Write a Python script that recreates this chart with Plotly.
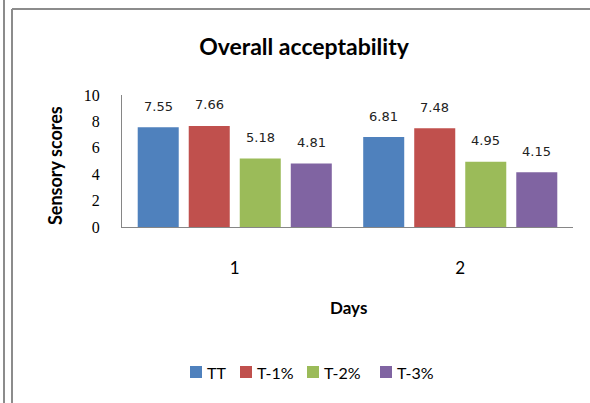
import plotly.graph_objects as go

# Overall acceptability sensory scores by storage day
days = ["1", "2"]
series_names = ["TT", "T-1%", "T-2%", "T-3%"]
tt_scores = [7.55, 6.81]
t1_scores = [7.66, 7.48]
t2_scores = [5.18, 4.95]
t3_scores = [4.81, 4.15]
y_ticks = [0, 2, 4, 6, 8, 10]

colors = ["#4F81BD", "#C0504D", "#9BBB59", "#8064A2"]
series_values = [tt_scores, t1_scores, t2_scores, t3_scores]

W, H = 590, 403
L, R, T, B = 122, 573, 95, 227  # plot area edges in pixels
BARGAP = 0.095
GROUPGAP = 0.196


def px(x):
    return (x - L) / (R - L)


def py(y):
    return (B - y) / (B - T)


fig = go.Figure()
for name, vals, col in zip(series_names, series_values, colors):
    fig.add_trace(go.Bar(
        x=days, y=vals, name=name, showlegend=False,
        marker=dict(color=col, line=dict(width=0)),
    ))

# value labels above each bar
annotations = []
slot = (1 - BARGAP) / len(series_names)
for i, vals in enumerate(series_values):
    off = -(1 - BARGAP) / 2 + slot * (i + 0.5)
    for j, v in enumerate(vals):
        annotations.append(dict(
            x=j + off, y=v, xref="x", yref="y", text=f"{v:.2f}",
            showarrow=False, yanchor="middle", yshift=21,
            font=dict(family="DejaVu Sans", size=13, color="#222222"),
        ))

# axis titles
annotations.append(dict(
    x=px(348), y=py(307), xref="paper", yref="paper", text="<b>Days</b>",
    showarrow=False, xanchor="center", yanchor="middle",
    font=dict(family="Lato", size=17, color="#000000"),
))
annotations.append(dict(
    x=px(55), y=py(166), xref="paper", yref="paper", text="<b>Sensory scores</b>",
    showarrow=False, xanchor="center", yanchor="middle", textangle=-90,
    font=dict(family="Lato", size=18, color="#000000"),
))

shapes = []

# legend row below the chart: coloured key squares followed by series names
legend_x = [190, 240, 307, 380]
legend_y = 372
for lx, name, col in zip(legend_x, series_names, colors):
    shapes.append(dict(
        type="rect", xref="paper", yref="paper",
        x0=px(lx), x1=px(lx + 12), y0=py(legend_y - 6), y1=py(legend_y + 6),
        fillcolor=col, line=dict(width=0),
    ))
    annotations.append(dict(
        x=px(lx + 15), y=py(legend_y), xref="paper", yref="paper", text=name,
        showarrow=False, xanchor="left", yanchor="middle",
        font=dict(family="Lato", size=16, color="#000000"),
    ))

border = dict(color="#8c8c8c", width=2)
shapes += [
    dict(type="line", xref="paper", yref="paper", x0=px(4), x1=px(4), y0=py(0), y1=py(H), line=border),
    dict(type="line", xref="paper", yref="paper", x0=px(12), x1=px(12), y0=py(9), y1=py(H), line=border),
    dict(type="line", xref="paper", yref="paper", x0=px(12), x1=px(W), y0=py(9), y1=py(9), line=border),
]

fig.update_layout(
    width=W, height=H,
    margin=dict(l=L, r=W - R, t=T, b=H - B, pad=0),
    paper_bgcolor="white", plot_bgcolor="white",
    barmode="group", bargap=BARGAP, bargroupgap=GROUPGAP,
    title=dict(
        text="<b>Overall acceptability</b>", x=304 / W, y=1 - 47 / H,
        xanchor="center", yanchor="middle",
        font=dict(family="Lato", size=23, color="#000000"),
    ),
    xaxis=dict(
        type="category", showline=True, linecolor="#868686", linewidth=1,
        ticks="", showgrid=False, ticklabelstandoff=26,
        tickfont=dict(family="Lato", size=17, color="#000000"),
    ),
    yaxis=dict(
        range=[0, 10], tickvals=y_ticks, showline=True, linecolor="#868686",
        linewidth=1, ticks="", showgrid=False, zeroline=False,
        ticklabelstandoff=18,
        tickfont=dict(family="Liberation Serif", size=16, color="#000000"),
    ),
    annotations=annotations,
    shapes=shapes,
)

fig.write_html("out.html")
